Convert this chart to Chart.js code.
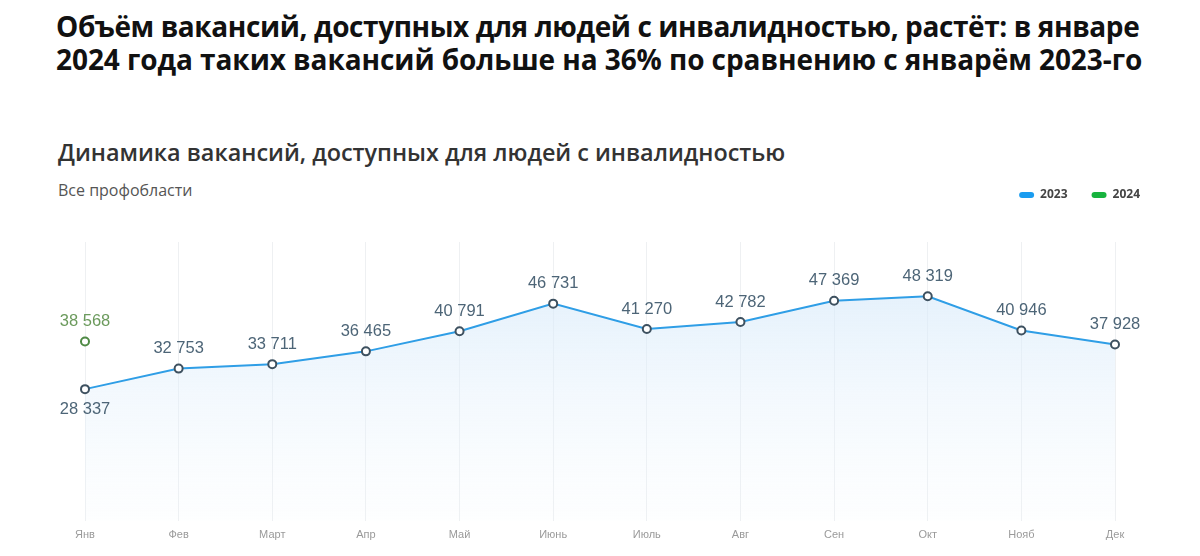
<!DOCTYPE html>
<html lang="ru">
<head>
<meta charset="utf-8">
<script src="https://cdn.jsdelivr.net/npm/chart.js@4/dist/chart.umd.min.js"></script>
<style>
  html, body { margin: 0; padding: 0; background: #fff; }
  body { width: 1200px; height: 556px; position: relative; overflow: hidden; font-family: "Open Sans", sans-serif; }
  #head { position: absolute; left: 56px; top: 10px; margin: 0; font-size: 28px; line-height: 33px; font-weight: 700; color: #111; letter-spacing: -0.4px; white-space: nowrap; }
  #head span { letter-spacing: -0.07px; }
  #sub { position: absolute; left: 58px; top: 136px; margin: 0; font-size: 23.4px; font-weight: 600; color: #333; white-space: nowrap; }
  #note { position: absolute; left: 58px; top: 179px; font-size: 16px; color: #555; }
  #wrap { position: absolute; left: 0; top: 165px; width: 1200px; height: 391px; }
</style>
</head>
<body>
<h1 id="head">Объём вакансий, доступных для людей с инвалидностью, растёт: в январе<br><span>2024 года таких вакансий больше на 36% по сравнению с январём 2023-го</span></h1>
<h2 id="sub">Динамика вакансий, доступных для людей с инвалидностью</h2>
<div id="note">Все профобласти</div>
<div id="wrap"><canvas id="vacChart"></canvas></div>
<script>
// months and values
var months = ['Янв', 'Фев', 'Март', 'Апр', 'Май', 'Июнь', 'Июль', 'Авг', 'Сен', 'Окт', 'Нояб', 'Дек'];
var values2023 = [28337, 32753, 33711, 36465, 40791, 46731, 41270, 42782, 47369, 48319, 40946, 37928];
var values2024 = [38568, null, null, null, null, null, null, null, null, null, null, null];

function fmt(v) {
    return String(v).replace(/\B(?=(\d{3})+(?!\d))/g, ' ');
}

// value labels next to the points
var valueLabels = {
    id: 'valueLabels',
    afterDatasetsDraw: function (chart) {
        var ctx = chart.ctx;
        ctx.save();
        ctx.font = '16.5px "Liberation Sans", Arial, sans-serif';
        ctx.textAlign = 'center';
        ctx.textBaseline = 'middle';
        chart.data.datasets.forEach(function (ds, i) {
            var meta = chart.getDatasetMeta(i);
            meta.data.forEach(function (pt, j) {
                var v = ds.data[j];
                if (v === null) return;
                ctx.fillStyle = ds.labelColor;
                var below = (i === 0 && j === 0);
                ctx.fillText(fmt(v), pt.x, below ? pt.y + 20 : pt.y - 20);
            });
        });
        ctx.restore();
    }
};

// leave room under the legend
var legendGap = {
    id: 'legendGap',
    beforeInit: function (chart) {
        var fit = chart.legend.fit;
        chart.legend.fit = function () {
            fit.call(this);
            this.height = 77;
        };
    }
};

var ctx = document.getElementById('vacChart').getContext('2d');
var grad = ctx.createLinearGradient(0, 80, 0, 360);
grad.addColorStop(0, 'rgba(210, 231, 249, 0.75)');
grad.addColorStop(1, 'rgba(238, 246, 253, 0.1)');

var vacChart = new Chart(ctx, {
    type: 'line',
    data: {
        labels: months,
        datasets: [{
            label: '2023',
            data: values2023,
            borderColor: '#2f9ee6',
            borderWidth: 2,
            backgroundColor: grad,
            fill: 'origin',
            tension: 0,
            pointRadius: 4,
            pointBorderWidth: 2,
            pointBorderColor: '#3e5160',
            pointBackgroundColor: '#fff',
            legendColor: '#1a9cf0',
            labelColor: '#4d6577'
        },
        {
            label: '2024',
            data: values2024,
            borderColor: '#4f8a45',
            showLine: false,
            fill: false,
            pointRadius: 4,
            pointBorderWidth: 2,
            pointBorderColor: '#4f8a45',
            pointBackgroundColor: '#fff',
            legendColor: '#17b33e',
            labelColor: '#6b9a5c'
        }]
    },
    options: {
        responsive: true,
        maintainAspectRatio: false,
        animation: false,
        layout: { padding: { left: 85, right: 36, top: 0, bottom: 6 } },
        plugins: {
            tooltip: { enabled: false },
            legend: {
                position: 'top',
                align: 'end',
                labels: {
                    boxWidth: 15,
                    boxHeight: 6,
                    useBorderRadius: true,
                    borderRadius: 3,
                    padding: 24,
                    color: '#444',
                    font: { size: 12, weight: 'bold', family: '"Open Sans", sans-serif' },
                    generateLabels: function (chart) {
                        return chart.data.datasets.map(function (ds, i) {
                            return {
                                text: ds.label,
                                fillStyle: ds.legendColor,
                                strokeStyle: ds.legendColor,
                                lineWidth: 0,
                                borderRadius: 3,
                                datasetIndex: i,
                                fontColor: '#444'
                            };
                        });
                    }
                }
            }
        },
        scales: {
            x: {
                offset: false,
                grid: { color: '#eef0f2', drawTicks: false },
                border: { display: false },
                ticks: {
                    color: '#9a9a9a',
                    padding: 8,
                    font: { size: 11, family: '"Liberation Sans", Arial, sans-serif' }
                }
            },
            y: {
                display: false,
                min: 0,
                max: 60000
            },
            side: {
                type: 'linear',
                position: 'right',
                display: true,
                ticks: { display: false },
                grid: { display: false },
                border: { display: false },
                afterFit: function (scale) { scale.width = 49; }
            }
        }
    },
    plugins: [valueLabels, legendGap]
});
</script>
</body>
</html>
